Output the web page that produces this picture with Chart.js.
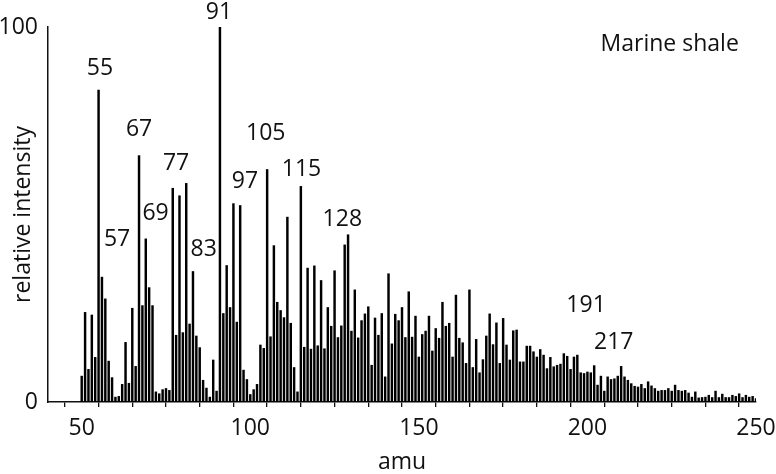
<!DOCTYPE html>
<html>
<head>
<meta charset="utf-8">
<script src="https://cdn.jsdelivr.net/npm/chart.js@4"></script>
<style>
    html, body { margin: 0; padding: 0; background: #fff; }
    canvas { display: block; }
</style>
</head>
<body>
<canvas id="spectrum" width="776" height="474"></canvas>
<script>
// Mass spectrum of a marine shale extract, stick plot

const firstMass = 50;
// relative intensity for each integer mass from 50 to 250
const intensity = [
    6.9, 23.9, 8.7, 23.2, 11.9, 83.2, 33.3, 27.5, 10.9, 6.5,      // 50-59
    1.3, 1.5, 4.7, 15.9, 5.0, 25.0, 9.5, 65.7, 25.7, 43.5,        // 60-69
    30.5, 25.7, 2.7, 2.2, 3.3, 3.6, 3.1, 57.0, 17.8, 55.0,        // 70-79
    18.5, 58.3, 20.8, 34.8, 17.6, 14.5, 5.8, 3.7, 1.3, 11.2,      // 80-89
    2.9, 100, 23.6, 36.4, 25.2, 52.9, 21.3, 52.4, 8.5, 6.0,       // 90-99
    2.0, 3.3, 4.7, 15.2, 14.3, 62.0, 17.4, 41.7, 26.6, 24.4,      // 100-109
    22.5, 49.3, 21.0, 9.2, 2.7, 57.5, 14.6, 35.7, 14.1, 36.3,     // 110-119
    15.0, 32.4, 14.2, 25.2, 20.2, 35.0, 17.2, 20.3, 41.9, 44.6,   // 120-129
    18.9, 29.9, 17.1, 21.7, 23.5, 25.4, 9.8, 22.4, 17.8, 23.6,    // 130-139
    6.7, 34.2, 15.5, 23.4, 21.7, 25.2, 17.2, 29.4, 17.3, 22.9,    // 140-149
    12.0, 18.0, 18.9, 22.9, 13.6, 19.6, 17.0, 26.6, 20.2, 21.0,   // 150-159
    12.0, 28.5, 17.0, 15.8, 10.3, 29.9, 9.2, 16.7, 7.8, 11.3,     // 160-169
    17.6, 23.5, 15.3, 21.1, 10.3, 22.3, 15.2, 11.2, 19.0, 19.2,   // 170-179
    10.7, 10.7, 14.9, 14.9, 13.4, 12.0, 14.0, 12.5, 8.9, 11.9,    // 180-189
    9.4, 9.8, 10.1, 12.9, 12.2, 8.7, 12.0, 12.5, 7.8, 7.6,        // 190-199
    8.0, 7.8, 9.7, 4.5, 6.9, 2.9, 6.7, 6.0, 6.2, 6.9,             // 200-209
    9.5, 6.7, 5.8, 4.9, 4.2, 4.0, 4.7, 3.6, 5.4, 4.3,             // 210-219
    3.6, 2.9, 3.1, 3.1, 3.6, 2.9, 4.5, 3.1, 2.9, 3.1,             // 220-229
    2.4, 1.3, 2.7, 1.1, 1.2, 1.3, 1.8, 1.2, 2.9, 1.2,             // 230-239
    2.1, 1.2, 1.2, 1.8, 1.5, 2.2, 1.2, 1.8, 1.3, 1.5,             // 240-249
    0.9                                                           // 250
];

// peak labels, placed in data units (mass, intensity)
const peakLabels = ['55', '57', '67', '69', '77', '83', '91', '97', '105', '115', '128', '191', '217'];
const labelMass = [55.4, 60.5, 67.0, 71.9, 78.0, 86.2, 90.7, 98.4, 104.6, 115.2, 127.3, 199.6, 207.8];
const labelLevel = [89.4, 43.8, 73.2, 50.8, 63.9, 41.1, 104.3, 59.2, 71.9, 62.5, 49.2, 26.1, 16.2];

const sampleName = 'Marine shale';
const sampleAt = [224.4, 95.7];

const xTicks = [50, 100, 150, 200, 250];
const yTicks = [0, 100];

const FONT = '"Open Sans", "Noto Sans", sans-serif';

const points = intensity.map((v, i) => ({ x: firstMass + i, y: v }));

const labelPlugin = {
    id: 'peakLabels',
    afterDatasetsDraw(chart) {
        const { ctx, scales: { x, y } } = chart;
        ctx.save();
        ctx.fillStyle = '#111';
        ctx.font = `23px ${FONT}`;
        ctx.textAlign = 'center';
        ctx.textBaseline = 'alphabetic';
        peakLabels.forEach((txt, i) => {
            ctx.fillText(txt, x.getPixelForValue(labelMass[i]), y.getPixelForValue(labelLevel[i]) + 8);
        });
        ctx.fillText(sampleName, x.getPixelForValue(sampleAt[0]), y.getPixelForValue(sampleAt[1]) + 8);
        ctx.restore();
    }
};

new Chart(document.getElementById('spectrum'), {
    type: 'bar',
    data: {
        datasets: [{
            data: points,
            backgroundColor: '#000',
            borderWidth: 0,
            barThickness: 1.8
        }]
    },
    options: {
        responsive: false,
        animation: false,
        layout: { padding: { top: 27, right: 20, left: 0, bottom: 0 } },
        plugins: {
            legend: { display: false },
            tooltip: { enabled: false }
        },
        scales: {
            x: {
                type: 'linear',
                min: 40,
                max: 250,
                offset: false,
                afterBuildTicks: (scale) => {
                    scale.ticks = scale.ticks.filter(t => t.value >= 50);
                },
                afterFit: (scale) => {
                    scale.height = 72;
                    // let the "250" label hang into the right margin
                    scale.paddingLeft = 0;
                    scale.paddingRight = 0;
                },
                ticks: {
                    stepSize: 10,
                    autoSkip: false,
                    maxRotation: 0,
                    padding: 8,
                    color: '#111',
                    font: { family: FONT, size: 23 },
                    callback: (v) => xTicks.includes(v) ? String(v) : ''
                },
                grid: {
                    drawOnChartArea: false,
                    drawTicks: true,
                    tickLength: 5,
                    color: '#111',
                    lineWidth: 1.3
                },
                border: { display: true, color: '#111', width: 1.5 },
                title: {
                    display: true,
                    text: 'amu',
                    color: '#111',
                    font: { family: FONT, size: 23, lineHeight: 1 },
                    padding: 0
                }
            },
            y: {
                min: 0,
                max: 100,
                afterBuildTicks: (scale) => {
                    scale.ticks = yTicks.map(v => ({ value: v }));
                },
                afterFit: (scale) => { scale.width = 48; },
                ticks: {
                    padding: 10,
                    color: '#111',
                    font: { family: FONT, size: 23 }
                },
                grid: { display: false, drawTicks: false },
                border: { display: true, color: '#111', width: 1.5 },
                title: {
                    display: true,
                    text: 'relative intensity',
                    color: '#111',
                    font: { family: FONT, size: 23, lineHeight: 1 },
                    padding: { top: 12, bottom: 0 }
                }
            }
        }
    },
    plugins: [labelPlugin]
});
</script>
</body>
</html>
